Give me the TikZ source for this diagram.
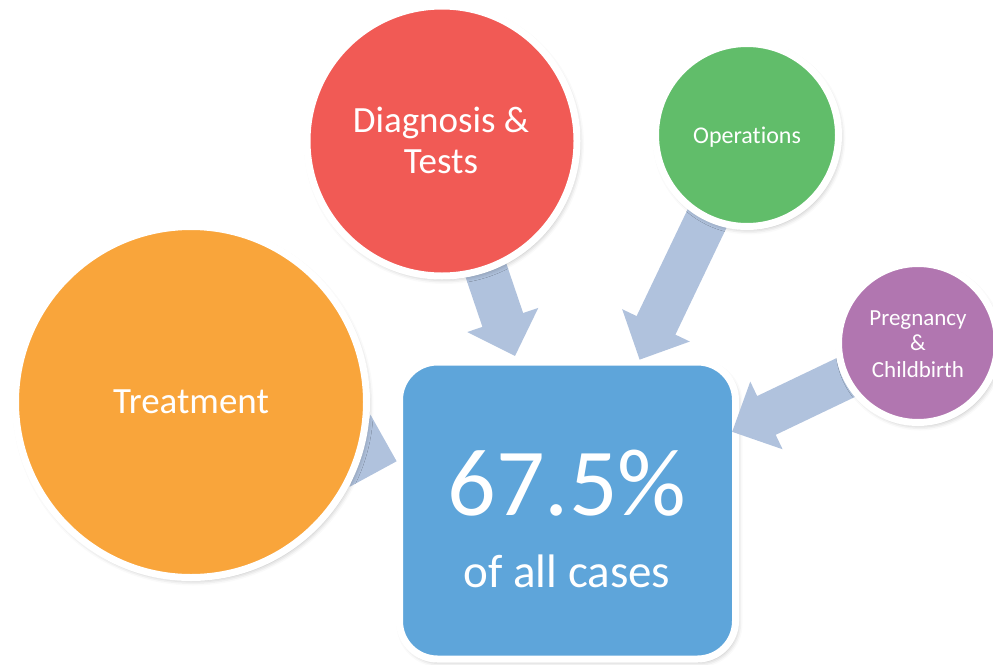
\documentclass[tikz,border=0pt]{standalone}
\usepackage{fontspec}
\setmainfont{Carlito}[Ligatures=NoCommon]
\usetikzlibrary{calc,shadows.blur}

\definecolor{treatOrange}{HTML}{F9A53B}
\definecolor{diagRed}{HTML}{F15A55}
\definecolor{opGreen}{HTML}{61BD6A}
\definecolor{pregPurple}{HTML}{B176B0}
\definecolor{hubBlue}{HTML}{5EA5DA}
\definecolor{arrowBlue}{HTML}{B0C2DD}

% block arrow from #1 towards #2, tip at distance #3 from #1
\newcommand\blockarrow[3]{%
  \coordinate (ba-s) at (#1);
  \coordinate (ba-t) at ($(#1)!#3!(#2)$);
  \coordinate (ba-b) at ($(ba-t)!38pt!(ba-s)$);
  \fill[arrowfill]
    ($(ba-s)!21.5pt!90:(ba-t)$) -- ($(ba-b)!21.5pt!90:(ba-t)$) --
    ($(ba-b)!37.5pt!90:(ba-t)$) -- (ba-t) --
    ($(ba-b)!37.5pt!-90:(ba-t)$) -- ($(ba-b)!21.5pt!-90:(ba-t)$) --
    ($(ba-s)!21.5pt!-90:(ba-t)$) -- cycle;}

\begin{document}
\begin{tikzpicture}[x=1pt,y=-1pt,
  softshadow/.style={blur shadow={shadow xshift=2pt, shadow yshift=-3pt,
      shadow blur radius=5pt, shadow opacity=30}},
  bubble/.style={circle, draw=white, line width=7pt, inner sep=0pt,
      outer sep=0pt, softshadow},
  hub/.style={rectangle, rounded corners=38pt, draw=white, line width=7pt,
      fill=hubBlue, minimum width=336pt, minimum height=297pt,
      inner sep=0pt, outer sep=0pt, softshadow},
  label/.style={text=white, anchor=base, inner sep=0pt, align=center},
  arrowfill/.style={fill=arrowBlue}]

\useasboundingbox (0,0) rectangle (993,664);

% centres of the category bubbles
\coordinate (treatC) at (191,402);
\coordinate (diagC) at (442,141);
\coordinate (operC) at (747,135);
\coordinate (pregC) at (918,343);

% central box
\node[hub] (hub) at (567.5,510.5) {};

% arrows pointing into the box
\blockarrow{treatC}{hub.center}{214pt}
\blockarrow{diagC}{hub.center}{227pt}
\blockarrow{operC}{hub.center}{249pt}
\blockarrow{pregC}{hub.center}{206pt}

\node[label, font=\fontsize{96}{96}\selectfont] (pct) at (567,515) {67.5\%};
\node[label, font=\fontsize{47}{47}\selectfont] (cases) at (567,587) {of all cases};

% surrounding categories
\node[bubble, fill=treatOrange, minimum size=351pt] (treat) at (treatC) {};
\node[label, font=\fontsize{37}{37}\selectfont] (treatT) at (191,413) {Treatment};

\node[bubble, fill=diagRed, minimum size=270pt] (diag) at (diagC) {};
\node[label, font=\fontsize{37}{37}\selectfont] (diagT1) at (441,132) {Diagnosis \&};
\node[label, font=\fontsize{37}{37}\selectfont] (diagT2) at (441,173) {Tests};

\node[bubble, fill=opGreen, minimum size=183pt] (oper) at (operC) {};
\node[label, font=\fontsize{24}{24}\selectfont] (operT) at (747,143) {Operations};

\node[bubble, fill=pregPurple, minimum size=159pt] (preg) at (pregC) {};
\node[label, font=\fontsize{23}{23}\selectfont] (pregT1) at (918,325) {Pregnancy};
\node[label, font=\fontsize{23}{23}\selectfont] (pregT2) at (918,350) {\&};
\node[label, font=\fontsize{23}{23}\selectfont] (pregT3) at (918,377) {Childbirth};
\end{tikzpicture}
\end{document}
